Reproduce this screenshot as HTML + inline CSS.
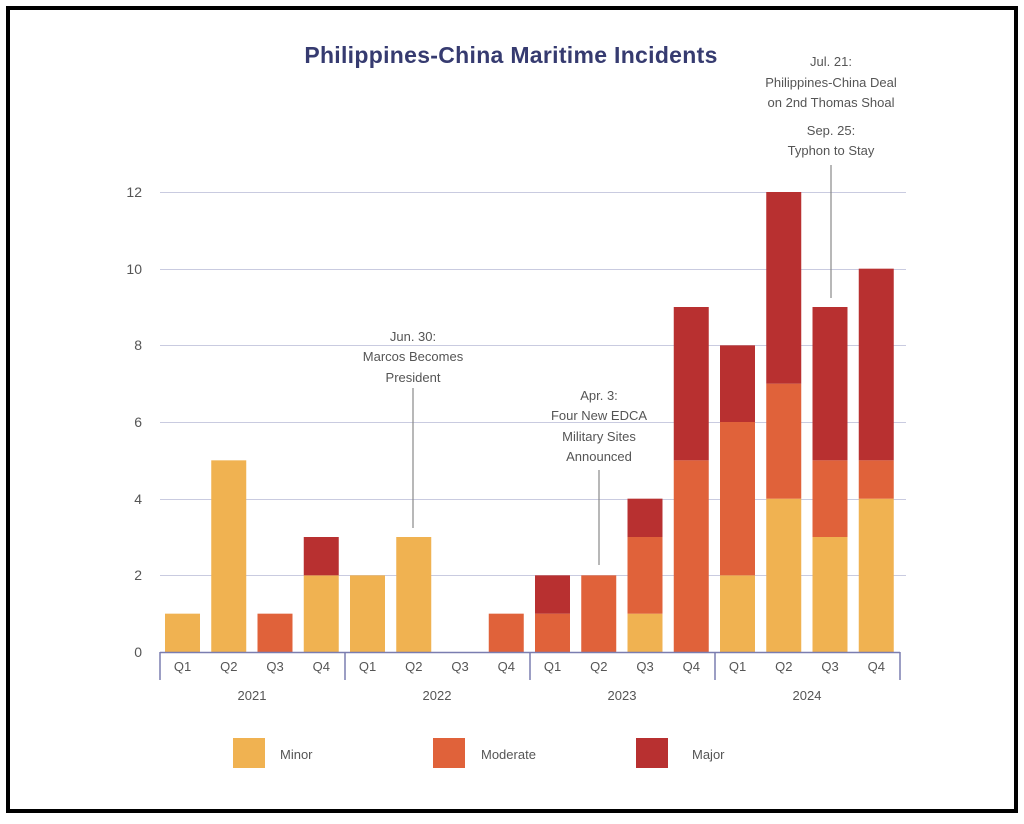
<!DOCTYPE html><html><head><style>
body{margin:0;background:#fff;}
svg text{font-family:"Liberation Sans",sans-serif;}
</style></head><body>
<svg width="1024" height="819" xmlns="http://www.w3.org/2000/svg">
<rect x="0" y="0" width="1024" height="819" fill="#fff"/>
<rect x="8" y="8" width="1008" height="803" fill="none" stroke="#000" stroke-width="4"/>
<text x="511" y="63" text-anchor="middle" font-size="23" font-weight="bold" fill="#363b70" letter-spacing="0.3">Philippines-China Maritime Incidents</text>
<g stroke="#c9cbe0" stroke-width="1">
<line x1="160" x2="906" y1="192.5" y2="192.5"/><line x1="160" x2="906" y1="269.5" y2="269.5"/>
<line x1="160" x2="906" y1="345.5" y2="345.5"/><line x1="160" x2="906" y1="422.5" y2="422.5"/>
<line x1="160" x2="906" y1="499.5" y2="499.5"/><line x1="160" x2="906" y1="575.5" y2="575.5"/>
</g>
<g font-size="14" fill="#555" text-anchor="end">
<text x="142" y="197">12</text><text x="142" y="274">10</text><text x="142" y="350">8</text>
<text x="142" y="427">6</text><text x="142" y="504">4</text><text x="142" y="580">2</text><text x="142" y="657">0</text>
</g>
<g id="bars"></g>
<line x1="160" x2="900" y1="652.5" y2="652.5" stroke="#7a7db0" stroke-width="1.5"/>
<g stroke="#7a7db0" stroke-width="1.5">
<line x1="160" x2="160" y1="652" y2="680"/><line x1="345" x2="345" y1="652" y2="680"/>
<line x1="530" x2="530" y1="652" y2="680"/><line x1="715" x2="715" y1="652" y2="680"/>
<line x1="900" x2="900" y1="652" y2="680"/>
</g>
<g font-size="13" fill="#555" text-anchor="middle" id="ql"></g>
<g font-size="13" fill="#555" text-anchor="middle">
<text x="252" y="700">2021</text><text x="437" y="700">2022</text><text x="622" y="700">2023</text><text x="807" y="700">2024</text>
</g>
<g stroke="#888" stroke-width="1.2">
<line x1="413" x2="413" y1="388" y2="528"/>
<line x1="599" x2="599" y1="470" y2="565"/>
<line x1="831" x2="831" y1="165" y2="298"/>
</g>
<g font-size="13" fill="#555" text-anchor="middle">
<text x="413" y="341">Jun. 30:</text><text x="413" y="361">Marcos Becomes</text><text x="413" y="382">President</text>
<text x="599" y="400">Apr. 3:</text><text x="599" y="420">Four New EDCA</text><text x="599" y="441">Military Sites</text><text x="599" y="461">Announced</text>
<text x="831" y="66">Jul. 21:</text><text x="831" y="87">Philippines-China Deal</text><text x="831" y="107">on 2nd Thomas Shoal</text>
<text x="831" y="135">Sep. 25:</text><text x="831" y="155">Typhon to Stay</text>
</g>
<rect x="233" y="738" width="32" height="30" fill="#f0b251"/><text x="280" y="759" font-size="13" fill="#555">Minor</text>
<rect x="433" y="738" width="32" height="30" fill="#e0623a"/><text x="481" y="759" font-size="13" fill="#555">Moderate</text>
<rect x="636" y="738" width="32" height="30" fill="#b83030"/><text x="692" y="759" font-size="13" fill="#555">Major</text>
</svg>
<script>
var d=[[1,0,0],[5,0,0],[0,1,0],[2,0,1],[2,0,0],[3,0,0],[0,0,0],[0,1,0],[0,1,1],[0,2,0],[1,2,1],[0,5,4],[2,4,2],[4,3,5],[3,2,4],[4,1,5]];
var c=["#f0b251","#e0623a","#b83030"],u=460/12,ns="http://www.w3.org/2000/svg";
var g=document.getElementById("bars"),q=document.getElementById("ql");
d.forEach(function(v,i){var x=160+i*46.25+5,y=652;
v.forEach(function(n,k){if(!n)return;var h=n*u;y-=h;var r=document.createElementNS(ns,"rect");
r.setAttribute("x",x);r.setAttribute("y",y);r.setAttribute("width",35);r.setAttribute("height",h);r.setAttribute("fill",c[k]);g.appendChild(r);});
var t=document.createElementNS(ns,"text");t.setAttribute("x",x+17.5);t.setAttribute("y",671);t.textContent="Q"+(i%4+1);q.appendChild(t);});
</script>
</body></html>
